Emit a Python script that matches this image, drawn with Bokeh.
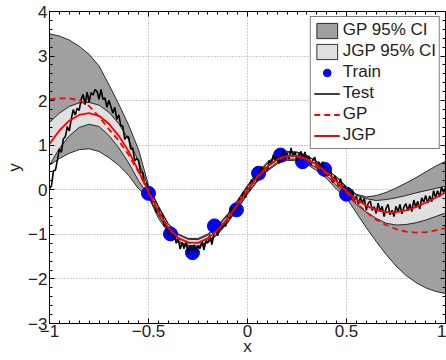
import numpy as np
from bokeh.plotting import figure
from bokeh.models import SingleIntervalTicker, CustomJSTickFormatter, LinearAxis
from bokeh.embed import file_html
from bokeh.resources import INLINE

# ---------------- data ----------------
x_curve = np.round(np.linspace(-1, 1, 41), 2)

gp_mean = [2.03, 2.05, 2.05, 2.01, 1.88, 1.64, 1.36, 1.10, 0.78, 0.40, -0.04,
           -0.50, -0.86, -1.09, -1.19, -1.19, -1.09, -0.90, -0.64, -0.33, 0.00,
           0.29, 0.52, 0.68, 0.76, 0.75, 0.67, 0.53, 0.35, 0.15, -0.06,
           -0.30, -0.50, -0.67, -0.79, -0.88, -0.94, -0.96, -0.95, -0.91, -0.86]
gp_upper = [3.50, 3.45, 3.36, 3.22, 3.04, 2.78, 2.36, 1.92, 1.45, 0.90, 0.10,
            -0.36, -0.76, -0.99, -1.09, -1.09, -0.99, -0.80, -0.54, -0.23, 0.10,
            0.39, 0.62, 0.78, 0.86, 0.85, 0.77, 0.63, 0.45, 0.29, 0.07,
            -0.10, -0.16, -0.13, -0.06, 0.04, 0.15, 0.27, 0.40, 0.53, 0.64]
gp_lower = [0.55, 0.70, 0.82, 0.90, 0.92, 0.86, 0.72, 0.55, 0.32, 0.02, -0.16,
            -0.64, -0.96, -1.19, -1.29, -1.29, -1.19, -1.00, -0.74, -0.43, -0.10,
            0.19, 0.42, 0.58, 0.66, 0.65, 0.57, 0.43, 0.25, 0.01, -0.18,
            -0.52, -0.85, -1.16, -1.45, -1.71, -1.92, -2.08, -2.20, -2.28, -2.33]

jgp_mean = [1.03, 1.33, 1.55, 1.68, 1.72, 1.66, 1.48, 1.21, 0.86, 0.42, -0.04,
            -0.48, -0.85, -1.08, -1.18, -1.19, -1.09, -0.90, -0.64, -0.33, 0.00,
            0.29, 0.52, 0.68, 0.76, 0.76, 0.69, 0.56, 0.39, 0.19, -0.03,
            -0.22, -0.36, -0.45, -0.50, -0.50, -0.46, -0.39, -0.29, -0.18, -0.06]
jgp_upper = [1.51, 1.72, 1.87, 1.95, 1.96, 1.90, 1.74, 1.48, 1.12, 0.63, 0.05,
             -0.39, -0.78, -1.01, -1.11, -1.12, -1.02, -0.83, -0.57, -0.26, 0.07,
             0.36, 0.59, 0.75, 0.83, 0.83, 0.76, 0.63, 0.46, 0.28, 0.05,
             -0.12, -0.20, -0.24, -0.22, -0.18, -0.13, -0.07, -0.02, 0.03, 0.08]
jgp_lower = [0.55, 0.93, 1.21, 1.40, 1.47, 1.42, 1.22, 0.94, 0.60, 0.20, -0.13,
             -0.57, -0.92, -1.15, -1.25, -1.26, -1.16, -0.97, -0.71, -0.40, -0.07,
             0.22, 0.45, 0.61, 0.69, 0.69, 0.62, 0.49, 0.32, 0.10, -0.11,
             -0.33, -0.50, -0.64, -0.75, -0.79, -0.78, -0.74, -0.68, -0.60, -0.52]

x_test = np.round(np.linspace(-1, 1, 201), 2)
y_test = [0.03, 0.09, 0.43, 0.44, 0.67, 0.92, 0.84, 1.14, 1.19, 1.42,
          1.32, 1.59, 1.80, 1.68, 1.83, 1.78, 2.03, 2.14, 1.91, 2.19,
          1.97, 2.18, 2.13, 2.25, 2.21, 2.03, 2.25, 2.03, 2.06, 1.85,
          2.01, 1.87, 1.72, 1.85, 1.58, 1.68, 1.44, 1.43, 1.13, 1.20,
          1.18, 0.91, 0.94, 0.65, 0.70, 0.66, 0.39, 0.39, 0.12, 0.15,
          -0.06, 0.00, -0.27, -0.27, -0.51, -0.41, -0.60, -0.54, -0.81, -0.79,
          -1.01, -0.88, -1.04, -0.97, -1.20, -1.10, -1.33, -1.19, -1.32, -1.15,
          -1.44, -1.25, -1.39, -1.23, -1.41, -1.26, -1.32, -1.15, -1.35, -1.14,
          -1.19, -1.01, -1.23, -1.00, -0.91, -1.03, -0.77, -0.87, -0.75, -0.82,
          -0.58, -0.65, -0.39, -0.54, -0.36, -0.43, -0.20, -0.21, -0.04, -0.18,
          0.05, -0.01, 0.23, 0.15, 0.32, 0.19, 0.39, 0.52, 0.39, 0.51,
          0.42, 0.66, 0.57, 0.78, 0.65, 0.77, 0.60, 0.79, 0.89, 0.69,
          0.81, 0.69, 0.94, 0.74, 0.85, 0.65, 0.79, 0.86, 0.67, 0.85,
          0.68, 0.76, 0.55, 0.67, 0.73, 0.51, 0.63, 0.48, 0.63, 0.34,
          0.44, 0.32, 0.43, 0.16, 0.31, 0.22, 0.08, 0.25, 0.03, 0.10,
          -0.10, 0.04, -0.11, 0.00, -0.24, -0.14, -0.33, -0.17, -0.29, -0.20,
          -0.46, -0.30, -0.25, -0.46, -0.38, -0.53, -0.30, -0.49, -0.37, -0.60,
          -0.41, -0.33, -0.56, -0.46, -0.60, -0.37, -0.50, -0.33, -0.54, -0.39,
          -0.31, -0.47, -0.32, -0.49, -0.23, -0.39, -0.26, -0.43, -0.18, -0.28,
          -0.13, -0.30, -0.14, -0.27, -0.02, -0.17, -0.02, -0.16, 0.06, -0.06,
          0.05]

x_train = [-0.5, -0.389, -0.278, -0.167, -0.056, 0.056, 0.167, 0.278, 0.389, 0.5]
y_train = [-0.08, -0.99, -1.41, -0.81, -0.45, 0.37, 0.78, 0.63, 0.46, -0.10]

x_ticks_interval = 0.5
y_ticks_interval = 1

FONT = "Liberation Sans"

# ---------------- figure ----------------
p = figure(width=446, height=360, x_range=(-1, 1), y_range=(-3, 4),
           output_backend="svg", toolbar_location=None,
           min_border_left=49, min_border_right=1, min_border_top=11,
           min_border_bottom=37, background_fill_color="white",
           border_fill_color="white")
p.outline_line_color = "black"
p.outline_line_width = 1

xt = SingleIntervalTicker(interval=x_ticks_interval, num_minor_ticks=10)
yt = SingleIntervalTicker(interval=y_ticks_interval, num_minor_ticks=5)
fmt = CustomJSTickFormatter(code="return String(tick).replace('-', '\u2212');")

def style_axis(ax, ticker, show_labels=True):
    ax.ticker = ticker
    ax.axis_line_color = "black"
    ax.major_tick_line_color = "black"
    ax.minor_tick_line_color = "black"
    ax.major_tick_in = 5
    ax.major_tick_out = 0
    ax.minor_tick_in = 3
    ax.minor_tick_out = 0
    if show_labels:
        ax.formatter = fmt
        ax.major_label_text_font = FONT
        ax.major_label_text_font_size = "17px"
        ax.major_label_text_color = "#222222"
        ax.axis_label_text_font = FONT
        ax.axis_label_text_font_size = "17px"
        ax.axis_label_text_font_style = "normal"
        ax.axis_label_text_color = "#222222"
    else:
        ax.major_label_text_font_size = "0px"
        ax.major_label_text_color = None
        ax.major_label_standoff = 0
        ax.axis_label_standoff = 0

style_axis(p.xaxis[0], xt)
style_axis(p.yaxis[0], yt)
p.xaxis[0].axis_label = "x"
p.yaxis[0].axis_label = "y"
p.xaxis[0].major_label_standoff = 1
p.xaxis[0].axis_label_standoff = -3
p.yaxis[0].major_label_standoff = 2
p.yaxis[0].axis_label_standoff = 1

top = LinearAxis()
right = LinearAxis()
style_axis(top, SingleIntervalTicker(interval=x_ticks_interval, num_minor_ticks=10), False)
style_axis(right, SingleIntervalTicker(interval=y_ticks_interval, num_minor_ticks=5), False)
p.add_layout(top, "above")
p.add_layout(right, "right")

for g, t in ((p.xgrid[0], xt), (p.ygrid[0], yt)):
    g.ticker = t
    g.grid_line_color = "#9a9a9a"
    g.grid_line_dash = "1 2"
    g.grid_line_width = 1

# ---------------- glyphs ----------------
xs_band = list(x_curve) + list(x_curve[::-1])
p.patch(xs_band, gp_upper + gp_lower[::-1], fill_color="#a0a0a0",
        line_color="black", line_width=0.8, legend_label="GP 95% CI")
p.patch(xs_band, jgp_upper + jgp_lower[::-1], fill_color="#e0e0e0",
        line_color="black", line_width=0.8, legend_label="JGP 95% CI")
p.scatter(x_train, y_train, size=14, fill_color="#0000ff", line_color="#0000ff",
          legend_label="Train")
p.line(x_test, y_test, line_color="black", line_width=1.6, legend_label="Test")
p.line(x_curve, gp_mean, line_color="#ff0000", line_width=1.8, line_dash="6 4",
       legend_label="GP")
p.line(x_curve, jgp_mean, line_color="#ff0000", line_width=1.8, legend_label="JGP")

lg = p.legend[0]
lg.location = "top_right"
lg.margin = 5
lg.border_line_color = "black"
lg.border_line_width = 1
lg.background_fill_color = "white"
lg.background_fill_alpha = 1
lg.label_text_font = FONT
lg.label_text_font_size = "17px"
lg.label_text_color = "#222222"
lg.glyph_width = 26
lg.glyph_height = 19
lg.spacing = 1
lg.padding = 3
lg.label_standoff = 3

open("out.html", "w").write(file_html(p, INLINE))
